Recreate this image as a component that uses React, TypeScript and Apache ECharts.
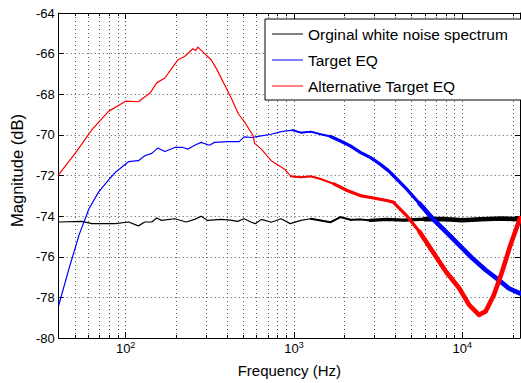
import React, { useEffect, useRef } from 'react';
import * as echarts from 'echarts';

const seriesNames = ['Orginal white noise spectrum', 'Target EQ', 'Alternative Target EQ'];
const seriesColors = ['#000000', '#0000ff', '#ff0000'];

const blackFreq = [40, 55, 63, 87, 104, 119, 130, 143, 153, 163, 196, 229, 257, 281, 307, 368, 420, 462, 506, 558, 590, 640, 733, 839, 950, 1100, 1259, 1442, 1651, 1890, 2163, 2479, 2838, 3556, 4500, 6000, 8000, 10000, 13000, 17000, 22050];
const blackDb = [-74.29, -74.26, -74.37, -74.37, -74.29, -74.48, -74.29, -74.29, -74.09, -74.21, -74.13, -74.29, -74.16, -74.01, -74.21, -74.16, -74.2, -74.26, -74.13, -74.3, -74.37, -74.16, -74.3, -74.13, -74.37, -74.21, -74.13, -74.21, -74.3, -74.05, -74.18, -74.16, -74.21, -74.16, -74.2, -74.15, -74.15, -74.2, -74.15, -74.12, -74.15];

const blueFreq = [40, 46, 53, 60.5, 69, 79.4, 87, 104, 119, 130, 143, 155, 171, 196, 219, 235, 257, 281, 315, 337, 404, 473, 506, 566, 640, 733, 839, 982, 1100, 1259, 1442, 1651, 1890, 2163, 2479, 2838, 3251, 3640, 3893, 4665, 5588, 6690, 8016, 9601, 11510, 13780, 16500, 18880, 22050];
const blueDb = [-78.4, -76.6, -74.9, -73.64, -72.82, -72.2, -71.84, -71.32, -71.27, -71.03, -70.91, -70.65, -70.82, -70.62, -70.62, -70.7, -70.51, -70.37, -70.51, -70.37, -70.33, -70.33, -70.1, -70.13, -70.05, -69.97, -69.84, -69.77, -69.89, -69.84, -69.97, -70.08, -70.3, -70.54, -70.86, -71.11, -71.44, -71.76, -72.0, -72.66, -73.39, -74.13, -74.78, -75.43, -76.08, -76.65, -77.15, -77.55, -77.8];

const redFreq = [40, 50.6, 63.4, 79.4, 100, 119, 140, 153, 171, 187, 205, 224, 251, 260, 269, 294, 322, 347, 389, 426, 467, 510, 546, 571, 584, 640, 733, 877, 960, 1100, 1259, 1442, 1727, 2069, 2479, 2968, 3556, 3893, 4665, 5588, 6690, 8016, 9601, 10990, 12590, 13780, 15420, 17260, 19330, 22050];
const redDb = [-71.96, -70.86, -69.72, -68.83, -68.34, -68.37, -67.93, -67.44, -67.2, -66.75, -66.3, -66.14, -65.76, -65.85, -65.68, -66.0, -66.3, -66.75, -67.57, -68.22, -68.96, -69.37, -69.77, -70.02, -70.42, -70.7, -71.27, -71.68, -72.04, -72.09, -72.04, -72.17, -72.41, -72.74, -72.99, -73.11, -73.23, -73.31, -73.97, -74.78, -75.76, -76.74, -77.55, -78.37, -78.86, -78.69, -77.88, -76.74, -75.43, -74.1];

const majorFreqs = [100, 1000, 10000];
const minorFreqs = [50, 60, 70, 80, 90, 200, 300, 400, 500, 600, 700, 800, 900, 2000, 3000, 4000, 5000, 6000, 7000, 8000, 9000, 20000];
const xMin = 40;
const xMax = 22050;
const yMin = -80;
const yMax = -64;
const yStep = 2;

const FONT = "'Liberation Sans', Arial, Helvetica, sans-serif";
const superDigits: Record<number, string> = { 100: '2', 1000: '3', 10000: '4' };
const LINE_ICON = 'path://M0,0 H62 V2 H0 Z';

function pairs(f: number[], d: number[]) {
  return f.map((x, i) => [x, d[i]]);
}

export default function App() {
  const ref = useRef<HTMLDivElement>(null);
  useEffect(() => {
    if (!ref.current) return;
    const chart = echarts.init(ref.current, undefined, { renderer: 'svg' });
    const allFreqs = [...majorFreqs, ...minorFreqs].sort((a, b) => a - b);
    const dotted = { color: '#555', width: 1, type: [1, 3] as any };
    const baseX = {
      type: 'log' as const,
      logBase: 10,
      min: xMin,
      max: xMax,
    };
    const datasets = [
      { f: blackFreq, d: blackDb, bands: [[1200, 2], [2700, 3.2], [6000, 4.6]] },
      { f: blueFreq, d: blueDb, bands: [[900, 2], [1600, 3.2], [5000, 4.6]] },
      { f: redFreq, d: redDb, bands: [[950, 2], [1700, 3.2], [5000, 4.6]] },
    ];
    const series: any[] = [];
    datasets.forEach((ds, i) => {
      const data = pairs(ds.f, ds.d);
      series.push({
        name: seriesNames[i],
        type: 'line',
        data,
        symbol: 'none',
        showSymbol: false,
        lineStyle: { color: seriesColors[i], width: 1.2, cap: 'round', join: 'round' },
        itemStyle: { color: seriesColors[i] },
        z: 10 + i * 4,
      });
      ds.bands.forEach(([lo, w], k) => {
        series.push({
          name: seriesNames[i] + ' band ' + k,
          type: 'line',
          data: data.filter((p) => p[0] >= lo),
          symbol: 'none',
          showSymbol: false,
          lineStyle: { color: seriesColors[i], width: w, cap: 'round', join: 'round' },
          z: 11 + i * 4 + k,
        });
      });
    });
    chart.setOption({
      animation: false,
      textStyle: { fontFamily: FONT },
      grid: { left: 56, right: 1, top: 13, bottom: 43, containLabel: false },
      legend: {
        data: seriesNames.map((n) => ({ name: n, icon: LINE_ICON })),
        orient: 'vertical',
        left: 265,
        top: 19,
        itemWidth: 31,
        itemHeight: 15,
        itemGap: 10,
        padding: [7, 24, 6, 7],
        borderColor: '#000',
        borderWidth: 1,
        backgroundColor: '#fff',
        textStyle: { fontSize: 15.5, color: '#000', fontFamily: FONT },
        selectedMode: false,
        z: 50,
      },
      xAxis: [
        {
          ...baseX,
          position: 'bottom',
          name: 'Frequency (Hz)',
          nameLocation: 'middle',
          nameGap: 25,
          nameTextStyle: { fontSize: 15, color: '#000', fontFamily: FONT },
          axisLine: { show: true, lineStyle: { color: '#000', width: 1 } },
          axisTick: { show: true, inside: true, length: 3, customValues: allFreqs, lineStyle: { color: '#000' } },
          axisLabel: {
            show: true,
            margin: 4,
            customValues: majorFreqs,
            formatter: (v: number) => {
              const k = Math.round(v);
              return '{b|10}{s|' + (superDigits[k] || '') + '}';
            },
            rich: {
              b: { fontSize: 13, color: '#000', fontFamily: FONT, lineHeight: 13, verticalAlign: 'bottom' },
              s: { fontSize: 9, color: '#000', fontFamily: FONT, lineHeight: 9, padding: [0, 0, 6, 0], verticalAlign: 'bottom' },
            },
          },
          splitLine: { show: true, lineStyle: dotted },
        },
        {
          ...baseX,
          position: 'top',
          axisLine: { show: true, lineStyle: { color: '#000', width: 1 } },
          axisTick: { show: true, inside: true, length: 3, customValues: allFreqs, lineStyle: { color: '#000' } },
          axisLabel: { show: false },
          splitLine: { show: false },
        },
        {
          ...baseX,
          position: 'bottom',
          axisLine: { show: false },
          axisTick: { show: true, inside: true, length: 6, customValues: majorFreqs, lineStyle: { color: '#000' } },
          axisLabel: { show: false },
          splitLine: { show: false },
        },
        {
          ...baseX,
          position: 'top',
          axisLine: { show: false },
          axisTick: { show: true, inside: true, length: 6, customValues: majorFreqs, lineStyle: { color: '#000' } },
          axisLabel: { show: false },
          splitLine: { show: false },
        },
      ],
      yAxis: [
        {
          type: 'value',
          position: 'left',
          min: yMin,
          max: yMax,
          interval: yStep,
          name: 'Magnitude (dB)',
          nameLocation: 'middle',
          nameGap: 21,
          nameRotate: 90,
          nameTextStyle: { fontSize: 16.5, color: '#000', fontFamily: FONT, padding: [0, 0, 0, 10] },
          axisLine: { show: true, lineStyle: { color: '#000', width: 1 } },
          axisTick: { show: true, inside: true, length: 5, lineStyle: { color: '#000' } },
          axisLabel: { show: true, margin: 4, fontSize: 13, color: '#000', fontFamily: FONT },
          splitLine: { show: true, lineStyle: dotted },
        },
        {
          type: 'value',
          position: 'right',
          min: yMin,
          max: yMax,
          interval: yStep,
          axisLine: { show: true, lineStyle: { color: '#000', width: 1 } },
          axisTick: { show: true, inside: true, length: 5, lineStyle: { color: '#000' } },
          axisLabel: { show: false },
          splitLine: { show: false },
        },
      ],
      series,
    });
    return () => chart.dispose();
  }, []);
  return (
    <div
      ref={ref}
      style={{ position: 'fixed', left: 0, top: 0, width: 521, height: 383, background: '#fff' }}
    />
  );
}
